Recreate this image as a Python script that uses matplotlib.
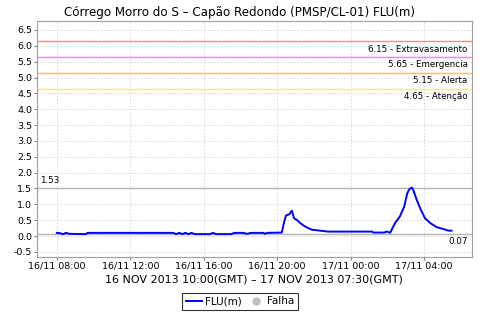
import matplotlib
matplotlib.use("Agg")
import matplotlib.pyplot as plt
import matplotlib.dates as mdates
from matplotlib.lines import Line2D
import pandas as pd

# leituras (hora local, GMT-2)
horas = [
    "2013-11-16 08:00", "2013-11-16 08:10", "2013-11-16 08:20", "2013-11-16 08:30",
    "2013-11-16 08:40", "2013-11-16 09:35", "2013-11-16 09:40", "2013-11-16 14:20",
    "2013-11-16 14:30", "2013-11-16 14:40", "2013-11-16 14:50", "2013-11-16 15:00",
    "2013-11-16 15:10", "2013-11-16 15:20", "2013-11-16 15:30", "2013-11-16 16:20",
    "2013-11-16 16:30", "2013-11-16 16:40", "2013-11-16 17:30", "2013-11-16 17:40",
    "2013-11-16 18:10", "2013-11-16 18:20", "2013-11-16 18:35", "2013-11-16 19:15",
    "2013-11-16 19:20", "2013-11-16 19:27", "2013-11-16 20:15", "2013-11-16 20:23",
    "2013-11-16 20:29", "2013-11-16 20:40", "2013-11-16 20:48", "2013-11-16 20:55",
    "2013-11-16 21:04", "2013-11-16 21:15", "2013-11-16 21:31", "2013-11-16 21:53",
    "2013-11-16 22:20", "2013-11-16 22:47", "2013-11-17 01:09", "2013-11-17 01:15",
    "2013-11-17 01:50", "2013-11-17 01:57", "2013-11-17 02:02", "2013-11-17 02:09",
    "2013-11-17 02:25", "2013-11-17 02:41", "2013-11-17 02:55", "2013-11-17 03:05",
    "2013-11-17 03:12", "2013-11-17 03:20", "2013-11-17 03:25", "2013-11-17 03:36",
    "2013-11-17 03:47", "2013-11-17 04:03", "2013-11-17 04:20", "2013-11-17 04:41",
    "2013-11-17 05:03", "2013-11-17 05:19", "2013-11-17 05:30",
]
nivel = [
    0.10, 0.09, 0.06, 0.10,
    0.07, 0.06, 0.10, 0.10,
    0.06, 0.10, 0.06, 0.10,
    0.06, 0.10, 0.06, 0.06,
    0.10, 0.06, 0.06, 0.10,
    0.10, 0.07, 0.10, 0.10,
    0.07, 0.10, 0.11, 0.46,
    0.65, 0.69, 0.80, 0.56,
    0.51, 0.41, 0.30, 0.20,
    0.17, 0.14, 0.14, 0.11,
    0.11, 0.14, 0.13, 0.10,
    0.41, 0.62, 0.93, 1.35,
    1.48, 1.53, 1.44, 1.14,
    0.88, 0.56, 0.41, 0.28,
    0.22, 0.17, 0.17,
]

cotas = [6.15, 5.65, 5.15, 4.65]
cotas_nomes = ["Extravasamento", "Emergencia", "Alerta", "Atenção"]
cotas_cores = ["#f08c8c", "#ee88ee", "#f8b87a", "#f5e98a"]
maximo = 1.53
minimo = 0.07

t = pd.to_datetime(horas)

fig = plt.figure(figsize=(4.8, 3.2), dpi=100)
ax = fig.add_axes([0.077, 0.197, 0.906, 0.737])

ax.set_xlim(pd.Timestamp("2013-11-16 06:55"), pd.Timestamp("2013-11-17 06:36"))
ax.set_ylim(-0.66, 6.78)
ax.set_yticks([x / 2 for x in range(-1, 14)])
ax.yaxis.set_major_formatter(plt.FormatStrFormatter("%.1f"))
ax.xaxis.set_major_locator(mdates.HourLocator(byhour=[0, 4, 8, 12, 16, 20]))
ax.xaxis.set_major_formatter(mdates.DateFormatter("%d/%m %H:%M"))

ax.grid(True, color="#d4d4d4", linestyle=(0, (2, 2)), linewidth=0.6)
ax.set_axisbelow(True)
for s in ax.spines.values():
    s.set_color("#a0a0a0")
ax.tick_params(labelsize=6.8, length=2, color="#808080", pad=1.5)

for v, nome, cor in zip(cotas, cotas_nomes, cotas_cores):
    ax.axhline(v, color=cor, linewidth=1)
    ax.annotate(f"{v:.2f} - {nome}", xy=(1, v), xycoords=("axes fraction", "data"),
                xytext=(-3, -2.5), textcoords="offset points",
                ha="right", va="top", fontsize=6.3)

ax.axhline(maximo, color="#b4b4b4", linewidth=1)
ax.annotate(f"{maximo:.2f}", xy=(0, maximo), xycoords=("axes fraction", "data"),
            xytext=(2, 2), textcoords="offset points", ha="left", va="bottom", fontsize=6.3)
ax.axhline(minimo, color="#b4b4b4", linewidth=1)
ax.annotate(f"{minimo:.2f}", xy=(1, minimo), xycoords=("axes fraction", "data"),
            xytext=(-3, -2.5), textcoords="offset points", ha="right", va="top", fontsize=6.3)

ax.plot(t, nivel, color="#0000ff", linewidth=1.4)

fig.suptitle("Córrego Morro do S – Capão Redondo (PMSP/CL-01) FLU(m)", x=0.5, y=0.982,
             fontsize=8.6, va="top")
ax.set_xlabel("16 NOV 2013 10:00(GMT) – 17 NOV 2013 07:30(GMT)", fontsize=8, labelpad=2.5)

handles = [Line2D([], [], color="#0000ff", linewidth=1.4),
           Line2D([], [], color="#c0c0c0", marker="o", linestyle="none", markersize=5)]
leg = fig.legend(handles, ["FLU(m)", "Falha"], loc="center", bbox_to_anchor=(0.5, 0.058),
                 ncol=2, fontsize=7.5, frameon=True, fancybox=False, handlelength=1.6,
                 handletextpad=0.3, columnspacing=0.5, borderpad=0.3)
leg.get_frame().set_edgecolor("black")
leg.get_frame().set_linewidth(0.8)

fig.savefig("out.png", dpi=100)
